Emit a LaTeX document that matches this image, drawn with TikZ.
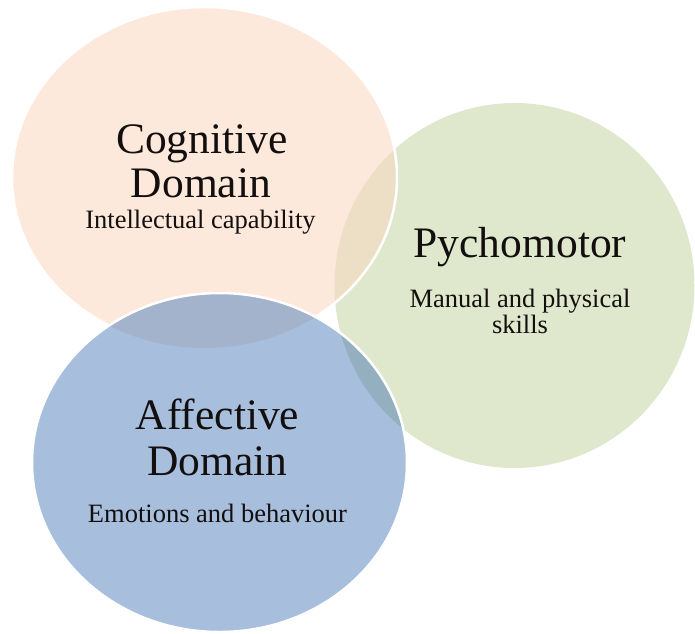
\documentclass[tikz,border=0pt]{standalone}
\usepackage{fontspec}
\setmainfont{Liberation Serif}
\definecolor{pch}{RGB}{252,233,219}
\definecolor{grn}{RGB}{223,232,204}
\definecolor{pg}{RGB}{237,223,197}
\definecolor{blu}{RGB}{167,191,221}
\definecolor{bp}{RGB}{163,179,203}
\definecolor{bg}{RGB}{148,176,192}
\definecolor{txt}{RGB}{20,15,15}
\tikzset{
  title/.style={anchor=base,inner sep=0pt,text=txt,font=\fontsize{43.5}{44}\selectfont},
  sub/.style={anchor=base,inner sep=0pt,text=txt,font=\fontsize{26.5}{26}\selectfont,align=center},
  rim/.style={draw=white,line width=2.5pt}
}
\begin{document}
\begin{tikzpicture}[x=1pt,y=-1pt]
\useasboundingbox (0,0) rectangle (695,633);
% green (Psychomotor)
\fill[grn] (514.5,285.5) ellipse [x radius=180pt, y radius=182.5pt];
% peach (Cognitive)
\fill[pch] (204.5,177.5) ellipse [x radius=192.5pt, y radius=170.5pt];
\begin{scope}
  \clip (204.5,177.5) ellipse [x radius=192.5pt, y radius=170.5pt];
  \fill[pg] (514.5,285.5) ellipse [x radius=180pt, y radius=182.5pt];
\end{scope}
\draw[rim] (204.5,177.5) ellipse [x radius=192.5pt, y radius=170.5pt];
% blue (Affective)
\fill[blu] (219.5,462.5) ellipse [x radius=187.5pt, y radius=169.5pt];
\begin{scope}
  \clip (219.5,462.5) ellipse [x radius=187.5pt, y radius=169.5pt];
  \fill[bp] (204.5,177.5) ellipse [x radius=192.5pt, y radius=170.5pt];
  \fill[bg] (514.5,285.5) ellipse [x radius=180pt, y radius=182.5pt];
\end{scope}
\draw[rim] (219.5,462.5) ellipse [x radius=187.5pt, y radius=169.5pt];
% texts
\node[title] (cog1) at (202,153) {Cognitive};
\node[title] (cog2) at (201,197) {Domain};
\node[sub] (cogs) at (200.5,228) {Intellectual capability};
\node[title] (psy1) at (520,257) {Pychomotor};
\node[sub] (psys1) at (520,307) {Manual and physical};
\node[sub] (psys2) at (520,333) {skills};
\node[title] (aff1) at (217.5,429) {Affective};
\node[title] (aff2) at (217.5,475) {Domain};
\node[sub] (affs) at (217.5,522) {Emotions and behaviour};
\end{tikzpicture}
\end{document}
